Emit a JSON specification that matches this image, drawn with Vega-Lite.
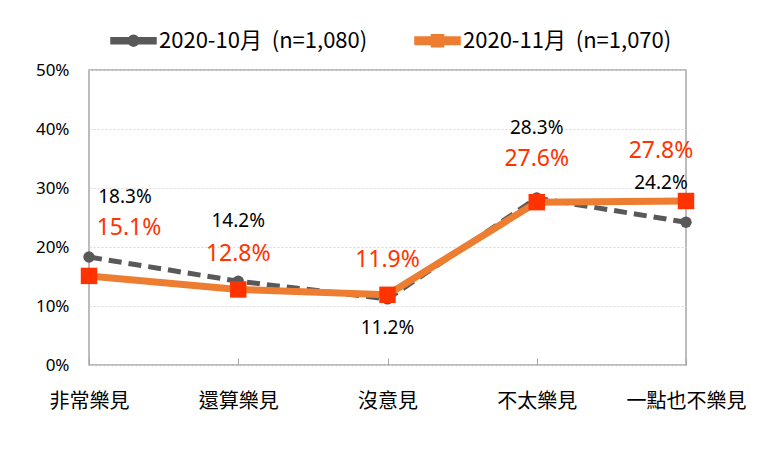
{
  "$schema": "https://vega.github.io/schema/vega-lite/v6.json",
  "width": 597,
  "height": 295,
  "autosize": "none",
  "padding": {"left": 89, "top": 70, "right": 84, "bottom": 96},
  "background": "white",
  "config": {
    "view": {"stroke": "#A6A6A6", "strokeWidth": 1.5},
    "font": "Noto Sans CJK TC"
  },
  "data": {
    "values": [
      {"category": "非常樂見", "series": "2020-10月\u00a0\u00a0(n=1,080)", "value": 18.3},
      {"category": "還算樂見", "series": "2020-10月\u00a0\u00a0(n=1,080)", "value": 14.2},
      {"category": "沒意見", "series": "2020-10月\u00a0\u00a0(n=1,080)", "value": 11.2},
      {"category": "不太樂見", "series": "2020-10月\u00a0\u00a0(n=1,080)", "value": 28.3},
      {"category": "一點也不樂見", "series": "2020-10月\u00a0\u00a0(n=1,080)", "value": 24.2},
      {"category": "非常樂見", "series": "2020-11月\u00a0\u00a0(n=1,070)", "value": 15.1},
      {"category": "還算樂見", "series": "2020-11月\u00a0\u00a0(n=1,070)", "value": 12.8},
      {"category": "沒意見", "series": "2020-11月\u00a0\u00a0(n=1,070)", "value": 11.9},
      {"category": "不太樂見", "series": "2020-11月\u00a0\u00a0(n=1,070)", "value": 27.6},
      {"category": "一點也不樂見", "series": "2020-11月\u00a0\u00a0(n=1,070)", "value": 27.8}
    ]
  },
  "transform": [{"calculate": "format(datum.value, '.1f') + '%'", "as": "label"}],
  "encoding": {
    "x": {
      "field": "category",
      "type": "nominal",
      "sort": ["非常樂見", "還算樂見", "沒意見", "不太樂見", "一點也不樂見"],
      "scale": {"type": "point", "padding": 0},
      "axis": {
        "title": null,
        "labelAngle": 0,
        "labelFontSize": 20,
        "labelColor": "#000000",
        "labelFont": "Noto Sans CJK TC",
        "domain": false,
        "ticks": true,
        "tickSize": -7,
        "tickColor": "#A6A6A6",
        "labelPadding": 33,
        "grid": false
      }
    },
    "y": {
      "field": "value",
      "type": "quantitative",
      "scale": {"domain": [0, 50], "nice": false},
      "axis": {
        "title": null,
        "values": [0, 10, 20, 30, 40, 50],
        "labelExpr": "datum.value + '%'",
        "labelFontSize": 17,
        "labelColor": "#000000",
        "labelFont": "Noto Sans",
        "labelPadding": 20,
        "ticks": false,
        "domain": false,
        "grid": true,
        "gridColor": "#D9D9D9",
        "gridDash": [2, 2]
      }
    }
  },
  "layer": [
    {
      "transform": [{"filter": "datum.series === '2020-10月\u00a0\u00a0(n=1,080)'"}],
      "mark": {"type": "line", "strokeWidth": 5, "strokeDash": [13, 7], "strokeCap": "butt"},
      "encoding": {
        "color": {
          "field": "series",
          "type": "nominal",
          "scale": {"domain": ["2020-10月\u00a0\u00a0(n=1,080)", "2020-11月\u00a0\u00a0(n=1,070)"], "range": ["#595959", "#ED7D31"]},
          "legend": {
            "title": null,
            "orient": "none",
            "legendX": 21,
            "legendY": -53,
            "direction": "horizontal",
            "labelFontSize": 22,
            "labelFont": "Noto Sans CJK TC",
            "labelColor": "#000000",
            "labelLimit": 0,
            "symbolSize": 2025,
            "columnPadding": 44,
            "labelOffset": 2,
            "encode": {
              "symbols": {
                "update": {
                  "shape": {"signal": "datum.index === 0 ? 'M-1,-0.13 L1,-0.13 L1,0.13 L-1,0.13 Z M0.24,0 A0.24,0.24 0 1,1 -0.24,0 A0.24,0.24 0 1,1 0.24,0 Z' : 'M-1,-0.17 L1,-0.17 L1,0.17 L-1,0.17 Z M-0.27,-0.27 L0.27,-0.27 L0.27,0.27 L-0.27,0.27 Z'"},
                  "fill": {"signal": "datum.index === 0 ? '#595959' : '#ED7D31'"},
                  "stroke": {"value": "transparent"},
                  "strokeDash": {"value": []},
                  "fillOpacity": {"value": 1}
                }
              }
            }
          }
        }
      }
    },
    {
      "transform": [{"filter": "datum.series === '2020-10月\u00a0\u00a0(n=1,080)'"}],
      "mark": {"type": "point", "shape": "circle", "filled": true, "size": 130, "color": "#595959", "opacity": 1}
    },
    {
      "transform": [{"filter": "datum.series === '2020-11月\u00a0\u00a0(n=1,070)'"}],
      "mark": {"type": "line", "strokeWidth": 7},
      "encoding": {
        "color": {"field": "series", "type": "nominal"}
      }
    },
    {
      "transform": [{"filter": "datum.series === '2020-11月\u00a0\u00a0(n=1,070)'"}],
      "mark": {"type": "point", "shape": "square", "filled": true, "size": 270, "color": "#FF3300", "opacity": 1}
    },
    {
      "transform": [{"filter": "datum.series === '2020-10月\u00a0\u00a0(n=1,080)'"}],
      "mark": {
        "type": "text",
        "fontSize": 19,
        "font": "Noto Sans",
        "color": "#000000",
        "baseline": "middle",
        "dx": {"expr": "datum.category === '非常樂見' ? 36 : datum.category === '一點也不樂見' ? -25 : 0"},
        "dy": {"expr": "datum.category === '沒意見' ? 29 : datum.category === '一點也不樂見' ? -39 : datum.category === '不太樂見' ? -70 : -60"}
      },
      "encoding": {"text": {"field": "label", "type": "nominal"}, "color": {"value": "#000000"}}
    },
    {
      "transform": [{"filter": "datum.series === '2020-11月\u00a0\u00a0(n=1,070)'"}],
      "mark": {
        "type": "text",
        "fontSize": 23,
        "font": "Noto Sans",
        "color": "#FF3300",
        "baseline": "middle",
        "dx": {"expr": "datum.category === '非常樂見' ? 40 : datum.category === '一點也不樂見' ? -25 : 0"},
        "dy": {"expr": "datum.category === '非常樂見' ? -48 : datum.category === '一點也不樂見' ? -50 : datum.category === '不太樂見' ? -43 : -35"}
      },
      "encoding": {"text": {"field": "label", "type": "nominal"}, "color": {"value": "#FF3300"}}
    }
  ]
}
